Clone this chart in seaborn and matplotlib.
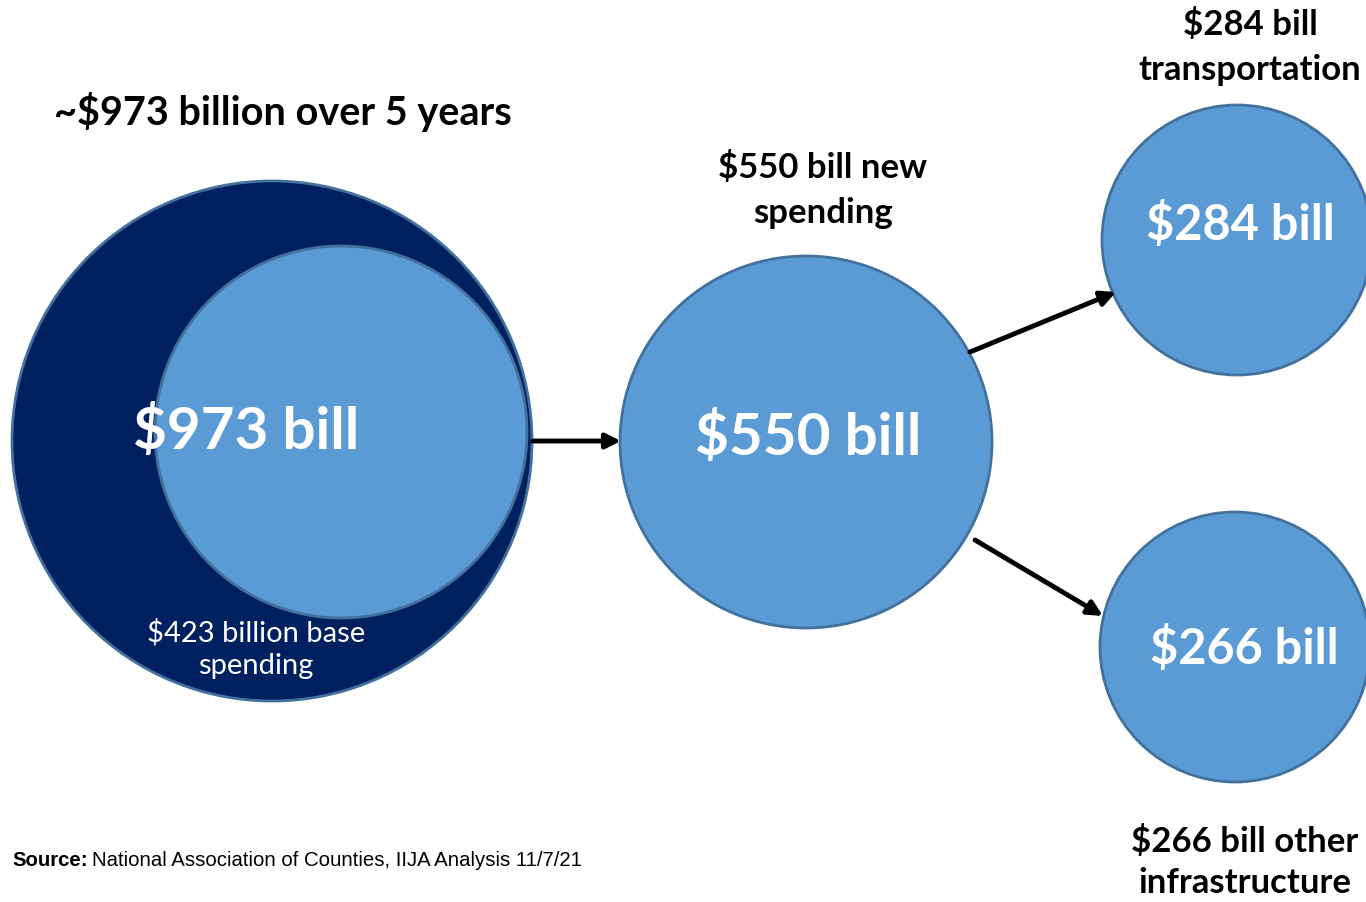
import matplotlib
matplotlib.use("Agg")
import matplotlib.pyplot as plt
from matplotlib.patches import Circle
import seaborn as sns

sns.set_theme(style="white")
plt.rcParams['font.family'] = ['Lato', 'DejaVu Sans']

# values (billions of dollars)
labels = ['$973 bill', '$550 bill', '$284 bill', '$266 bill']
values = [973, 550, 284, 266]
base_value = 423
captions = ['~$973 billion over 5 years', '$550 bill new\nspending',
            '$284 bill\ntransportation', '$266 bill other\ninfrastructure']
base_caption = '$423 billion base\nspending'
source_text = 'National Association of Counties, IIJA Analysis 11/7/21'

# layout in pixel units (x, y, radius)
circles = [(272, 441, 260), (806, 442, 186), (1237, 240, 135), (1235, 647, 135)]
inner = (341, 432, 186)
label_pos = [(246, 432), (808, 438), (1240, 224), (1244, 648)]
caption_pos = [(283, 112), (823, 190), (1250, 47), (1245, 862)]
caption_spacing = [1.5, 1.5, 1.5, 1.36]
arrows = [((533, 441), (621, 441)), ((970, 352), (1116, 292)), ((975, 540), (1103, 616))]

navy = '#002060'
blue = '#5B9BD5'
edge = '#41719C'

fig = plt.figure(figsize=(13.66, 9.02), dpi=100)
ax = fig.add_axes([0, 0, 1, 1])
ax.set_xlim(0, 1366)
ax.set_ylim(902, 0)
ax.set_aspect('equal')
ax.axis('off')

# circles
for i, (cx, cy, r) in enumerate(circles):
    fc = navy if i == 0 else blue
    ax.add_patch(Circle((cx, cy), r, facecolor=fc, edgecolor=edge, lw=2, zorder=1))
ax.add_patch(Circle(inner[:2], inner[2], facecolor=blue, edgecolor=edge, lw=2, zorder=2))

# big labels inside circles
for i, lab in enumerate(labels):
    x, y = label_pos[i]
    size = 42 if values[i] > 500 else 35
    ax.text(x, y, lab, color='white', fontsize=size, fontweight='bold',
            ha='center', va='center', zorder=5)

ax.text(256, 649, base_caption, color='white', fontsize=21, ha='center',
        va='center', linespacing=1.3, zorder=5)

# captions
for i, cap in enumerate(captions):
    x, y = caption_pos[i]
    size = 28.5 if i == 0 else 25
    ax.text(x, y, cap, color='black', fontsize=size, fontweight='bold',
            ha='center', va='center', linespacing=caption_spacing[i], zorder=5)

# arrows
for (x0, y0), (x1, y1) in arrows:
    ax.annotate('', xy=(x1, y1), xytext=(x0, y0),
                arrowprops=dict(arrowstyle='-|>', color='black', lw=3.5,
                                mutation_scale=22, shrinkA=0, shrinkB=0), zorder=4)

# source line
src_font = ['Liberation Sans Narrow', 'Liberation Sans']
t = ax.text(12, 861, 'Source:', fontsize=14.7, fontweight='bold', family=src_font,
            ha='left', va='center', color='black')
fig.canvas.draw()
bb = t.get_window_extent().transformed(ax.transData.inverted())
ax.text(bb.x1 + 4, 861, source_text, fontsize=14.7, family=src_font,
        ha='left', va='center', color='black')

fig.savefig('out.png', dpi=100)
